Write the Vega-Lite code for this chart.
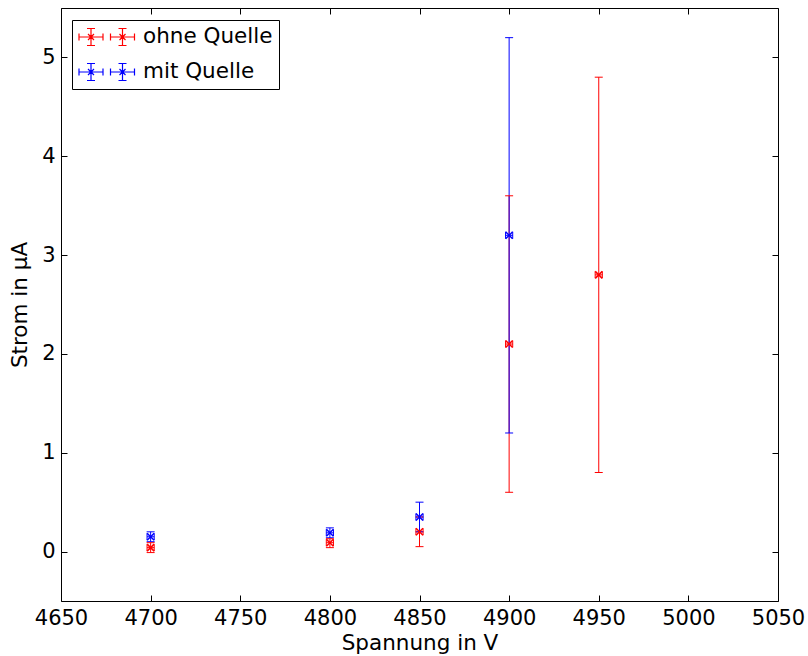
{
  "$schema": "https://vega.github.io/schema/vega-lite/v6.json",
  "autosize": {"type": "none"},
  "width": 717,
  "height": 593,
  "padding": {"left": 61, "top": 8, "right": 30, "bottom": 55},
  "background": "white",
  "config": {
    "view": {"stroke": "#000", "strokeWidth": 1},
    "font": "DejaVu Sans",
    "tick": {"opacity": 1},
    "rule": {"opacity": 1},
    "axis": {
      "domain": false, "grid": false, "tickColor": "#000", "tickSize": -6, "tickWidth": 1,
      "labelFont": "DejaVu Sans", "labelFontSize": 21, "labelColor": "#000",
      "titleFont": "DejaVu Sans", "titleFontSize": 21.5, "titleFontWeight": "normal", "titleColor": "#000",
      "labelFlush": false, "labelOverlap": false, "labelPadding": 12
    },
    "legend": {
      "labelFont": "DejaVu Sans", "labelFontSize": 21.5, "labelColor": "#000"
    }
  },
  "data": {
    "values": [
      {"series": "ohne Quelle", "x": 4700, "y": 0.04, "ylo": -0.01, "yhi": 0.09, "xlo": 4698, "xhi": 4702},
      {"series": "ohne Quelle", "x": 4800, "y": 0.09, "ylo": 0.04, "yhi": 0.13, "xlo": 4798, "xhi": 4802},
      {"series": "ohne Quelle", "x": 4850, "y": 0.2, "ylo": 0.05, "yhi": 0.35, "xlo": 4848, "xhi": 4852},
      {"series": "ohne Quelle", "x": 4900, "y": 2.1, "ylo": 0.6, "yhi": 3.6, "xlo": 4898, "xhi": 4902},
      {"series": "ohne Quelle", "x": 4950, "y": 2.8, "ylo": 0.8, "yhi": 4.8, "xlo": 4948, "xhi": 4952},
      {"series": "mit Quelle", "x": 4700, "y": 0.15, "ylo": 0.1, "yhi": 0.2, "xlo": 4698, "xhi": 4702},
      {"series": "mit Quelle", "x": 4800, "y": 0.19, "ylo": 0.14, "yhi": 0.24, "xlo": 4798, "xhi": 4802},
      {"series": "mit Quelle", "x": 4850, "y": 0.35, "ylo": 0.2, "yhi": 0.5, "xlo": 4848, "xhi": 4852},
      {"series": "mit Quelle", "x": 4900, "y": 3.2, "ylo": 1.2, "yhi": 5.2, "xlo": 4898, "xhi": 4902}
    ]
  },
  "layer": [
    {
      "mark": {"type": "rule", "strokeWidth": 1, "opacity": 1},
      "encoding": {
        "x": {"field": "x", "type": "quantitative", "scale": {"domain": [4650, 5050], "nice": false, "zero": false},
              "axis": {"orient": "top", "labels": false, "title": null, "values": [4650,4700,4750,4800,4850,4900,4950,5000,5050]}},
        "y": {"field": "ylo", "type": "quantitative", "scale": {"domain": [-0.5, 5.5], "nice": false, "zero": false},
              "axis": {"orient": "right", "labels": false, "title": null, "values": [0,1,2,3,4,5]}},
        "y2": {"field": "yhi"},
        "color": {"field": "series", "type": "nominal", "scale": {"domain": ["ohne Quelle", "mit Quelle"], "range": ["#ff0000", "#0000ff"]}}
      }
    },
    {
      "mark": {"type": "rule", "strokeWidth": 1, "opacity": 1},
      "encoding": {
        "x": {"field": "xlo", "type": "quantitative", "axis": null},
        "x2": {"field": "xhi"},
        "y": {"field": "y", "type": "quantitative", "axis": null},
        "color": {"field": "series", "type": "nominal"}
      }
    },
    {
      "mark": {"type": "tick", "orient": "horizontal", "size": 8, "thickness": 1, "opacity": 1},
      "encoding": {
        "x": {"field": "x", "type": "quantitative", "axis": null},
        "y": {"field": "ylo", "type": "quantitative", "axis": null},
        "color": {"field": "series", "type": "nominal"}
      }
    },
    {
      "mark": {"type": "tick", "orient": "horizontal", "size": 8, "thickness": 1, "opacity": 1},
      "encoding": {
        "x": {"field": "x", "type": "quantitative", "axis": null},
        "y": {"field": "yhi", "type": "quantitative", "axis": null},
        "color": {"field": "series", "type": "nominal"}
      }
    },
    {
      "mark": {"type": "tick", "orient": "vertical", "size": 7, "thickness": 1, "opacity": 1},
      "encoding": {
        "x": {"field": "xlo", "type": "quantitative", "axis": null},
        "y": {"field": "y", "type": "quantitative", "axis": null},
        "color": {"field": "series", "type": "nominal"}
      }
    },
    {
      "mark": {"type": "tick", "orient": "vertical", "size": 7, "thickness": 1, "opacity": 1},
      "encoding": {
        "x": {"field": "xhi", "type": "quantitative", "axis": null},
        "y": {"field": "y", "type": "quantitative", "axis": null},
        "color": {"field": "series", "type": "nominal"}
      }
    },
    {
      "mark": {"type": "point", "filled": false, "strokeWidth": 1.5, "size": 49, "shape": "M-1,-1L1,1M-1,1L1,-1", "opacity": 1},
      "encoding": {
        "x": {"field": "x", "type": "quantitative",
              "axis": {"orient": "bottom", "title": "Spannung in V", "format": "d", "values": [4650,4700,4750,4800,4850,4900,4950,5000,5050], "titlePadding": 4}},
        "y": {"field": "y", "type": "quantitative",
              "axis": {"orient": "left", "title": "Strom in μA", "format": "d", "values": [0,1,2,3,4,5], "titlePadding": 10}},
        "color": {"field": "series", "type": "nominal", "title": null,
                  "legend": {
                    "orient": "none", "legendX": 11, "legendY": 12,
                    "symbolType": "M-1,0H1.4M0.2,-0.85V0.85M-0.2,-0.85H0.6M-0.2,0.85H0.6M-1,-0.35V0.35M1.4,-0.35V0.35M-0.1,-0.3L0.5,0.3M-0.1,0.3L0.5,-0.3M2.15,0H4.55M3.35,-0.85V0.85M2.95,-0.85H3.75M2.95,0.85H3.75M2.15,-0.35V0.35M4.55,-0.35V0.35M3.05,-0.3L3.65,0.3M3.05,0.3L3.65,-0.3",
                    "symbolSize": 400, "symbolStrokeWidth": 1.2, "symbolFillColor": "transparent", "symbolOpacity": 1,
                    "labelOffset": 43, "rowPadding": 13, "padding": 6,
                    "strokeColor": "#000", "fillColor": "#fff", "cornerRadius": 0
                  }}
      }
    }
  ]
}
